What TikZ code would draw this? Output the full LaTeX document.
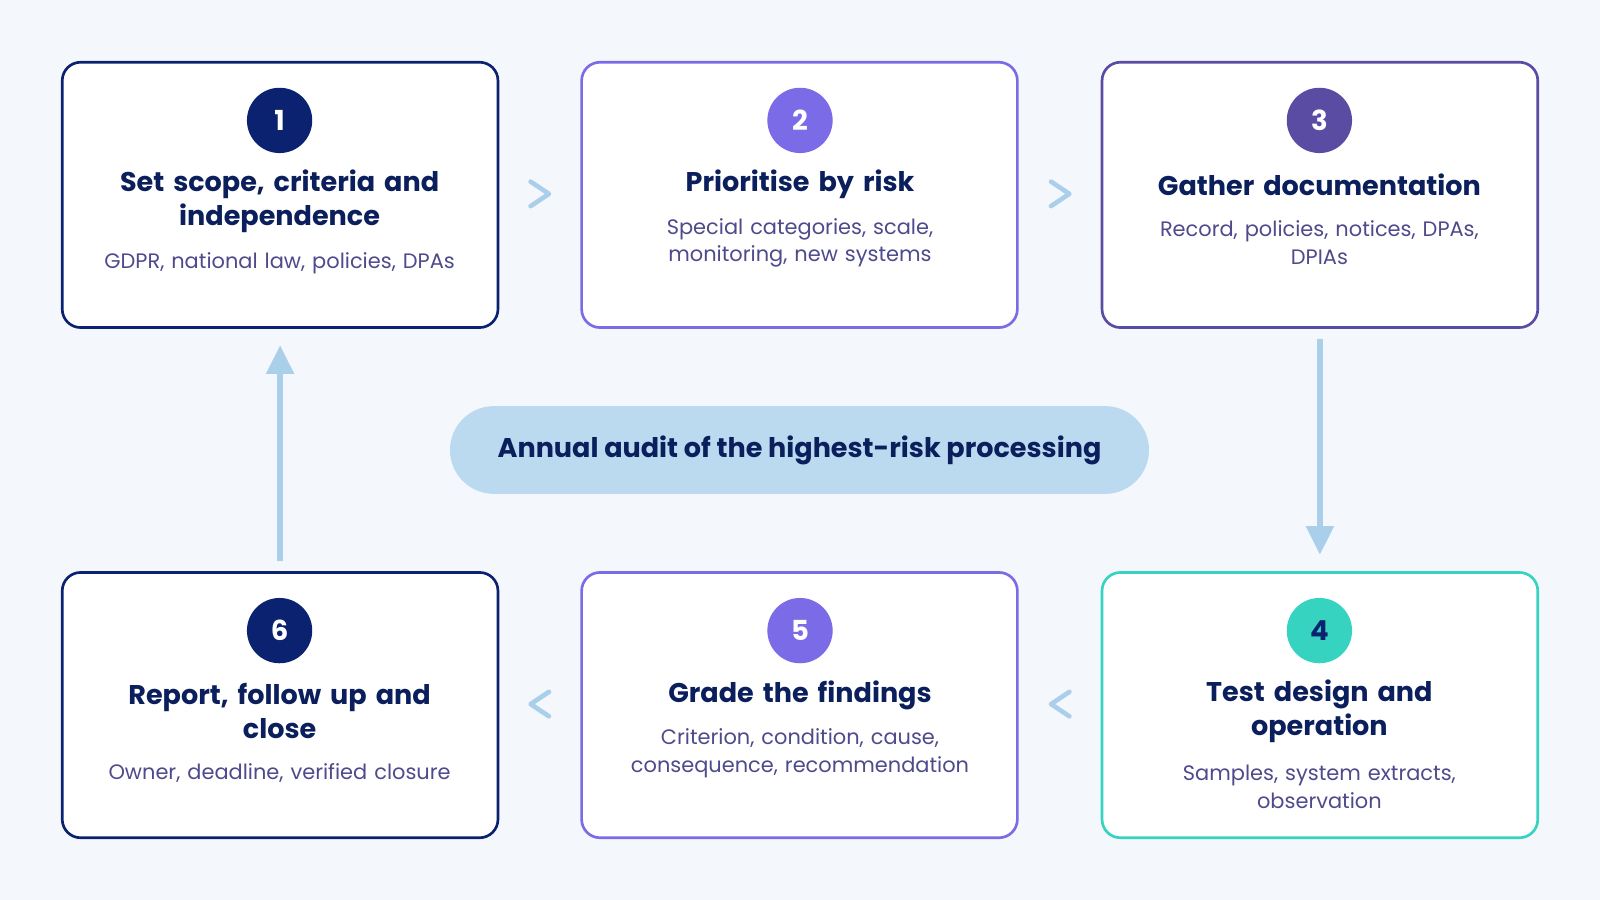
\documentclass[tikz,border=0pt]{standalone}
\usepackage{fontspec}
\setmainfont{Poppins}
\usetikzlibrary{arrows.meta,calc}
\definecolor{bg}{HTML}{F4F7FB}
\definecolor{navy}{HTML}{0B2270}
\definecolor{ttl}{HTML}{0B1F5C}
\definecolor{sub}{HTML}{4E4A8C}
\definecolor{purp}{HTML}{7B6BE6}
\definecolor{vio}{HTML}{5A4CA3}
\definecolor{teal}{HTML}{35D3C0}
\definecolor{lblue}{HTML}{A9CFEA}
\definecolor{pill}{HTML}{BBD9EF}
\tikzset{
 box/.style={draw=#1,line width=2.6pt,rounded corners=18pt,fill=white,minimum width=427pt,minimum height=260pt},
 badge/.style={circle,fill=#1,minimum size=64pt,inner sep=0pt,text=white,font=\bfseries\fontsize{27}{28}\selectfont},
 ttl/.style={text=ttl,font=\bfseries\fontsize{26.5}{33}\selectfont,align=center,text width=420pt},
 sub/.style={text=sub,font=\fontsize{20.5}{27}\selectfont,align=center,text width=420pt},
 chev/.style={draw=lblue,line width=4.5pt,line cap=round,line join=round},
 varr/.style={draw=lblue,line width=6pt,-{Triangle[width=26pt,length=28pt]}}
}
\begin{document}
\begin{tikzpicture}[x=1pt,y=-1pt]
\fill[bg] (0,0) rectangle (1568,882);
\useasboundingbox (0,0) rectangle (1568,882);
% boxes
\node[box=navy] (b1) at (274.5,191) {};
\node[box=purp] (b2) at (783.5,191) {};
\node[box=vio] (b3) at (1293.5,191) {};
\node[box=teal] (b4) at (1293.5,691) {};
\node[box=purp] (b5) at (783.5,691) {};
\node[box=navy] (b6) at (274.5,691) {};
% badges
\node[badge=navy] (n1) at (274,118) {1};
\node[badge=purp] (n2) at (784,118) {2};
\node[badge=vio] (n3) at (1293,118) {3};
\node[badge=teal,text=navy] (n4) at (1293,618) {4};
\node[badge=purp] (n5) at (784,618) {5};
\node[badge=navy] (n6) at (274,618) {6};
% titles
\node[ttl] (t1) at (274,197) {Set scope, criteria and\\independence};
\node[sub] (s1) at (274,258) {GDPR, national law, policies, DPAs};
\node[ttl] (t2) at (784,181) {Prioritise by risk};
\node[sub] (s2) at (784,238) {Special categories, scale,\\monitoring, new systems};
\node[ttl] (t3) at (1293,181) {Gather documentation};
\node[sub] (s3) at (1293,238) {Record, policies, notices, DPAs,\\DPIAs};
\node[ttl] (t4) at (1293,697) {Test design and\\operation};
\node[sub] (s4) at (1293,771) {Samples, system extracts,\\observation};
\node[ttl] (t5) at (784,681) {Grade the findings};
\node[sub] (s5) at (784,738) {Criterion, condition, cause,\\consequence, recommendation};
\node[ttl] (t6) at (274,697) {Report, follow up and\\close};
\node[sub] (s6) at (274,758) {Owner, deadline, verified closure};
% center pill
\node[fill=pill,rounded corners=43pt,minimum width=685pt,minimum height=86pt,text=ttl,font=\bfseries\fontsize{26.5}{28}\selectfont] (c) at (783.5,441) {Annual audit of the highest-risk processing};
% chevrons
\coordinate (k1) at (538,190); \coordinate (k2) at (1048,190);
\coordinate (k3) at (520,690); \coordinate (k4) at (1030,690);
\draw[chev] ($(k1)+(-18,-12)$) -- (k1) -- ++(-18,12);
\draw[chev] ($(k2)+(-18,-12)$) -- (k2) -- ++(-18,12);
\draw[chev] ($(k3)+(18,-12)$) -- (k3) -- ++(18,12);
\draw[chev] ($(k4)+(18,-12)$) -- (k4) -- ++(18,12);
% vertical arrows
\draw[varr] ([yshift=-10pt]b3.south) -- ([yshift=16pt]b4.north);
\draw[varr] ([yshift=10pt]b6.north) -- ([yshift=-16pt]b1.south);
\end{tikzpicture}
\end{document}
